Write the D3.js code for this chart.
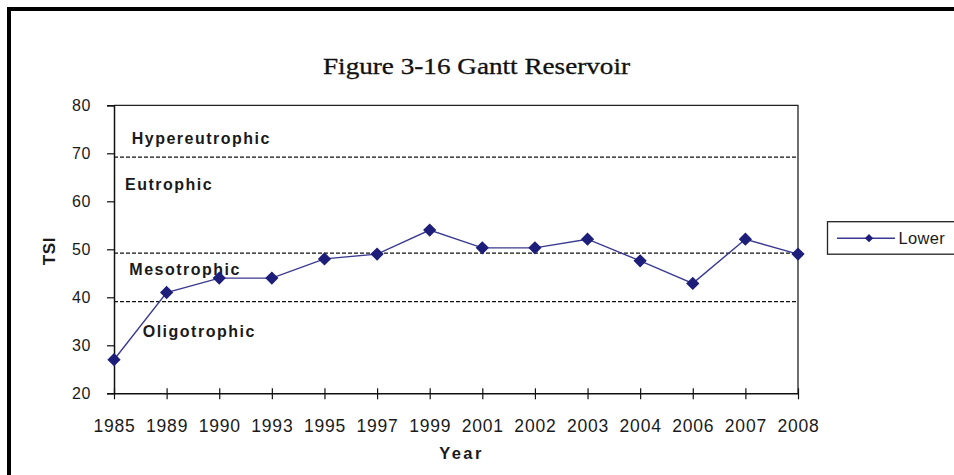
<!DOCTYPE html>
<html>
<head>
<meta charset="utf-8">
<script src="https://cdn.jsdelivr.net/npm/d3@7"></script>
<style>
  html, body { margin: 0; padding: 0; background: #fff; }
  svg { display: block; }
  text { font-family: "Liberation Sans", Arial, sans-serif; fill: #1a1a1a; }
</style>
</head>
<body>
<svg id="chart" width="954" height="475"></svg>
<script>
// Gantt Reservoir trophic state index (TSI), lower station
const years = ["1985","1989","1990","1993","1995","1997","1999","2001","2002","2003","2004","2006","2007","2008"];
const lowerTSI = [27, 41, 44, 44, 48, 49, 54, 50.3, 50.3, 52.1, 47.6, 42.9, 52.1, 49];
const yTicks = [20, 30, 40, 50, 60, 70, 80];
const zoneBreaks = [39.1, 49.2, 69.2];
const zoneNames = ["Hypereutrophic", "Eutrophic", "Mesotrophic", "Oligotrophic"];
const seriesName = "Lower";
const titleText = "Figure 3-16 Gantt Reservoir";

const svg = d3.select("#chart");

// outer frame
svg.append("rect")
  .attr("x", 9).attr("y", 9).attr("width", 1000).attr("height", 500)
  .attr("fill", "none").attr("stroke", "#000").attr("stroke-width", 4);

const plotL = 114, plotR = 798, plotT = 105.3, plotB = 393.3;

const x = d3.scalePoint().domain(years).range([plotL, plotR]);
const y = d3.scaleLinear().domain([20, 80]).range([plotB, plotT]);

// title
svg.append("text")
  .attr("x", 323).attr("y", 73.5)
  .attr("textLength", 307).attr("lengthAdjust", "spacingAndGlyphs")
  .style("font-family", "'Liberation Serif', 'Times New Roman', serif")
  .style("font-size", "22.5px")
  .style("fill", "#111")
  .style("stroke", "#111").style("stroke-width", 0.3)
  .text(titleText);

// plot frame (top and right edges)
svg.append("path")
  .attr("d", `M${plotL},${plotT}H${plotR}V${plotB}`)
  .attr("fill", "none").attr("stroke", "#222").attr("stroke-width", 1.3);

// trophic zone boundaries
svg.append("g").selectAll("line").data(zoneBreaks).join("line")
  .attr("x1", plotL).attr("x2", plotR)
  .attr("y1", d => y(d)).attr("y2", d => y(d))
  .attr("stroke", "#111").attr("stroke-width", 1.2)
  .attr("stroke-dasharray", "4,2");

// zone labels
const zoneLabelPos = [
  {dx: 17.7, v: 71.9},
  {dx: 11, v: 62.35},
  {dx: 15.3, v: 44.6},
  {dx: 28.7, v: 31.7}
];
svg.append("g").selectAll("text").data(zoneNames).join("text")
  .attr("x", (d, i) => plotL + zoneLabelPos[i].dx)
  .attr("y", (d, i) => y(zoneLabelPos[i].v))
  .style("font-size", "16px").style("font-weight", "bold")
  .style("letter-spacing", "1.5px")
  .text(d => d);

// y axis
const yAxis = svg.append("g")
  .attr("transform", `translate(${plotL},0)`)
  .call(d3.axisLeft(y).tickValues(yTicks).tickSize(7).tickPadding(16).tickFormat(d3.format("d")));
yAxis.select(".domain").attr("stroke", "#111").attr("stroke-width", 1.5);
yAxis.selectAll(".tick line").attr("stroke", "#111").attr("stroke-width", 1.2);
yAxis.selectAll(".tick text")
  .style("font-size", "16px").style("letter-spacing", "0.6px")
  .style("font-family", "'Liberation Sans', Arial, sans-serif")
  .attr("fill", "#222");

// x axis with crossing tick marks
const xAxis = svg.append("g")
  .attr("transform", `translate(0,${plotB})`)
  .call(d3.axisBottom(x).tickSize(6).tickPadding(0).tickSizeOuter(0));
xAxis.select(".domain").attr("stroke", "#111").attr("stroke-width", 1.5);
xAxis.selectAll(".tick line").attr("y1", -5).attr("y2", 6)
  .attr("stroke", "#111").attr("stroke-width", 1.2);
xAxis.selectAll(".tick text")
  .attr("y", 39).attr("dy", 0)
  .style("font-size", "17.5px").style("letter-spacing", "0.8px")
  .style("font-family", "'Liberation Sans', Arial, sans-serif")
  .attr("fill", "#222");

// axis titles
svg.append("text")
  .attr("x", 461.5).attr("y", 459.3)
  .attr("text-anchor", "middle")
  .style("font-size", "16.5px").style("font-weight", "bold")
  .style("letter-spacing", "2.4px")
  .text("Year");

svg.append("text")
  .attr("transform", "translate(54.5,251) rotate(-90)")
  .attr("text-anchor", "middle")
  .style("font-size", "17px").style("font-weight", "bold")
  .style("letter-spacing", "0.6px")
  .text("TSI");

// series line and markers
const lineColor = "#3a3a90";
const markColor = "#1d1d7a";
const series = years.map((yr, i) => ({year: yr, v: lowerTSI[i]}));

svg.append("path")
  .datum(series)
  .attr("fill", "none")
  .attr("stroke", lineColor).attr("stroke-width", 1.4)
  .attr("d", d3.line().x(d => x(d.year)).y(d => y(d.v)));

const diamond = d3.symbol(d3.symbolSquare, 88);
svg.append("g").selectAll("path").data(series).join("path")
  .attr("d", diamond)
  .attr("transform", d => `translate(${x(d.year)},${y(d.v)}) rotate(45)`)
  .attr("fill", markColor);

// legend
const lg = svg.append("g");
lg.append("rect")
  .attr("x", 827.5).attr("y", 221.7).attr("width", 200).attr("height", 32.5)
  .attr("fill", "#fff").attr("stroke", "#222").attr("stroke-width", 1.3);
lg.append("line")
  .attr("x1", 837).attr("x2", 895).attr("y1", 238.2).attr("y2", 238.2)
  .attr("stroke", lineColor).attr("stroke-width", 1.4);
lg.append("path")
  .attr("d", d3.symbol(d3.symbolSquare, 34))
  .attr("transform", "translate(869,238.2) rotate(45)")
  .attr("fill", markColor);
lg.append("text")
  .attr("x", 898.5).attr("y", 244)
  .style("font-size", "16.5px").style("letter-spacing", "0.3px")
  .attr("fill", "#222")
  .text(seriesName);
</script>
</body>
</html>
